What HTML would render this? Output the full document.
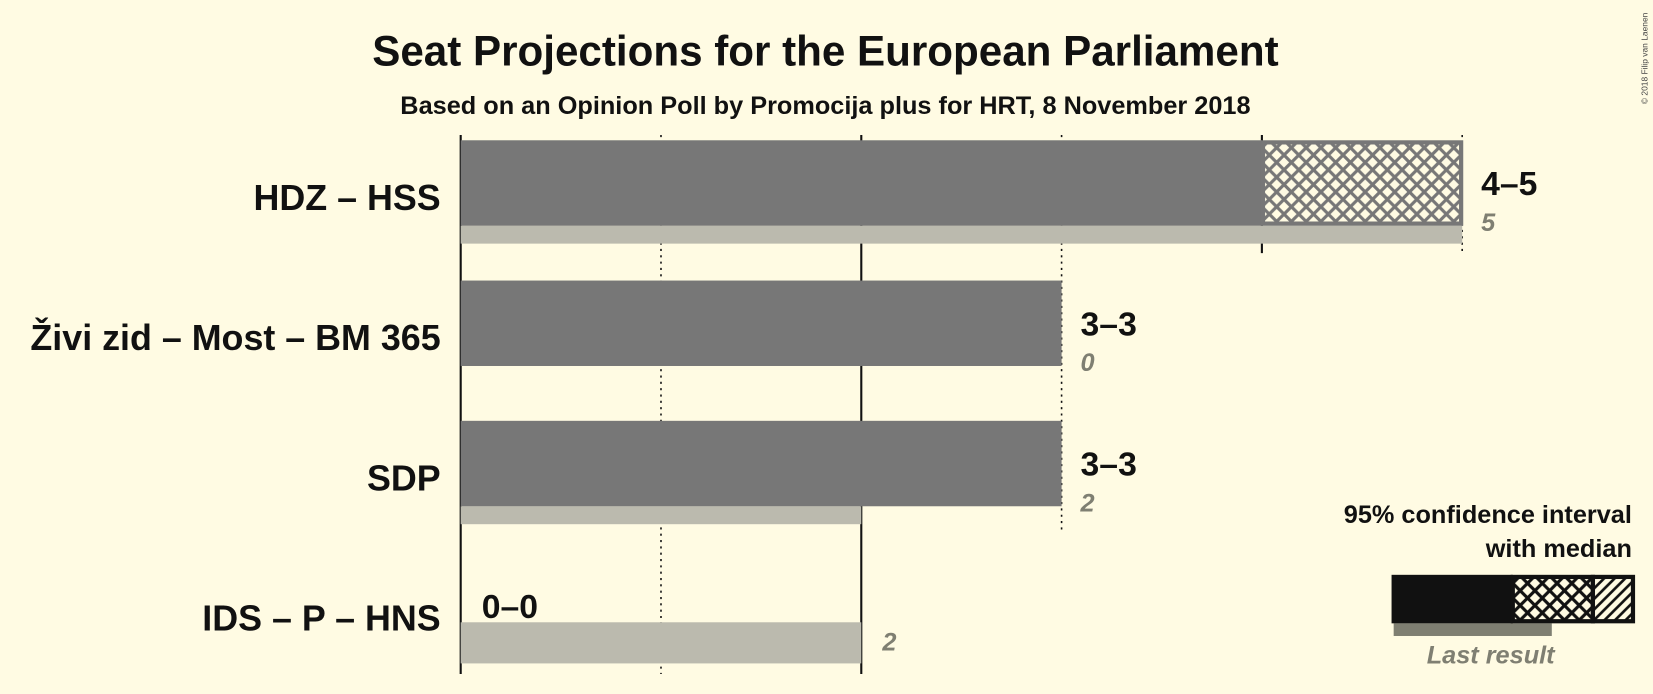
<!DOCTYPE html>
<html><head><meta charset="utf-8"><style>
body{margin:0;background:#fffbe3;}
svg{display:block;font-family:"Liberation Sans",sans-serif;}
</style></head><body>
<svg width="1653" height="694" viewBox="0 0 1568 658" preserveAspectRatio="none">
<defs>
<pattern id="xh" width="14" height="14" patternUnits="userSpaceOnUse" patternTransform="translate(1197,0)">
<rect width="14" height="14" fill="#fffbe3"/>
<path d="M-2,2 L2,-2 M0,14 L14,0 M12,16 L16,12 M-2,12 L2,16 M0,0 L14,14 M12,-2 L16,2" stroke="#777" stroke-width="3"/>
</pattern>
<pattern id="xhb" width="14" height="14" patternUnits="userSpaceOnUse">
<rect width="14" height="14" fill="#fffbe3"/>
<path d="M0,14 L14,0 M0,0 L14,14 M-2,2 L2,-2 M12,16 L16,12 M-2,12 L2,16 M12,-2 L16,2" stroke="#111" stroke-width="3"/>
</pattern>
<pattern id="dg" width="10" height="10" patternUnits="userSpaceOnUse">
<rect width="10" height="10" fill="#fffbe3"/>
<path d="M0,10 L10,0 M-2,2 L2,-2 M8,12 L12,8" stroke="#111" stroke-width="2.5"/>
</pattern>
</defs>
<text x="783" y="62" text-anchor="middle" font-size="40" font-weight="bold" fill="#111">Seat Projections for the European Parliament</text>
<text x="783" y="108" text-anchor="middle" font-size="24" font-weight="bold" fill="#111">Based on an Opinion Poll by Promocija plus for HRT, 8 November 2018</text>
<text x="1563" y="12" font-size="8" fill="#444" transform="rotate(-90 1563 12)" text-anchor="end">© 2018 Filip van Laenen</text>
<g id="grid"></g>
<g id="bars"></g>
<g>
<text x="1548" y="496" text-anchor="end" font-size="24" font-weight="bold" fill="#111">95% confidence interval</text>
<text x="1548" y="528" text-anchor="end" font-size="24" font-weight="bold" fill="#111">with median</text>
<rect x="1322" y="591" width="150" height="12" fill="#7f7f72"/>
<rect x="1320" y="545" width="115" height="46" fill="#111"/>
<rect x="1435" y="547" width="76" height="42" fill="url(#xhb)" stroke="#111" stroke-width="4"/>
<rect x="1511" y="547" width="38" height="42" fill="url(#dg)" stroke="#111" stroke-width="4"/>
<text x="1414" y="629" text-anchor="middle" font-size="24" font-weight="bold" font-style="italic" fill="#7f7f72">Last result</text>
</g>
</svg>
<script>
const parties=["HDZ – HSS","Živi zid – Most – BM 365","SDP","IDS – P – HNS"];
const ciLow=[4,3,3,0];
const ciHigh=[5,3,3,0];
const lastResult=[5,0,2,2];
const ticks=[0,1,2,3,4,5];
const x0=437, unit=190;
const xs=v=>x0+v*unit;
const rowTop=[133,266,399,532];
const ns="http://www.w3.org/2000/svg";
function mk(tag,attrs,parent){const e=document.createElementNS(ns,tag);for(const k in attrs)e.setAttribute(k,attrs[k]);parent.appendChild(e);return e;}
const grid=document.getElementById('grid'),bars=document.getElementById('bars');
ticks.forEach(t=>{
 let last=0;
 parties.forEach((p,i)=>{if(Math.max(ciHigh[i],lastResult[i])>=t)last=i;});
 const l=mk('line',{x1:xs(t),x2:xs(t),y1:128,y2:rowTop[last]+107,stroke:'#111','stroke-width':t%2==0?2:1.5,'stroke-dasharray':t%2==0?'none':'2,4'},grid);
 
 
});
parties.forEach((p,i)=>{
 const y=rowTop[i];
 const g=mk('g',{},bars);
 
 
 const lbl=mk('text',{x:418,y:y+66,'text-anchor':'end','font-size':34,'font-weight':'bold',fill:'#111'},g);
 lbl.textContent=p;
 
 
 if(lastResult[i]>0){
  const ly=ciHigh[i]>0?y+81:y+58;const lh=ciHigh[i]>0?17:39;
  const lr=mk('rect',{x:xs(0),y:ly,width:xs(lastResult[i])-xs(0),height:lh,fill:'#bbbaae'},g);
  
  
 }
 if(ciHigh[i]>0){
  const b=mk('rect',{x:xs(0),y:y,width:xs(ciLow[i])-xs(0),height:81,fill:'#777'},g);
  
  
  if(ciHigh[i]>ciLow[i]){
   const h=mk('rect',{x:xs(ciLow[i])+1,y:y+2,width:xs(ciHigh[i])-xs(ciLow[i])-2,height:77,fill:'url(#xh)',stroke:'#777','stroke-width':4},g);
   
   
  }
 }
 const rx=xs(ciHigh[i])+(ciHigh[i]>0?18:20);
 const rt=mk('text',{x:rx,y:ciHigh[i]>0?y+52:y+54,'font-size':32,'font-weight':'bold',fill:'#111'},g);
 rt.textContent=ciLow[i]+'–'+ciHigh[i];
 
 
 const lx=ciHigh[i]>0?rx:xs(lastResult[i])+20;
 const lt=mk('text',{x:lx,y:ciHigh[i]>0?y+86:y+85,'font-size':24,'font-weight':'bold','font-style':'italic',fill:'#7f7f72'},g);
 lt.textContent=lastResult[i];
 
 
});
</script>
</body></html>
